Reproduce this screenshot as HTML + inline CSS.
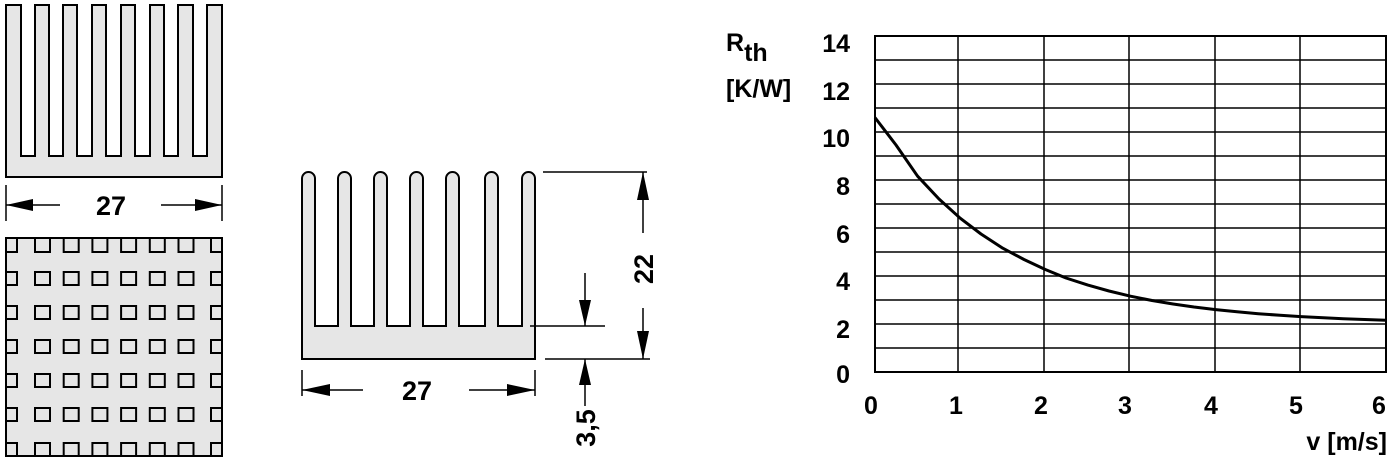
<!DOCTYPE html>
<html><head><meta charset="utf-8"><style>
html,body{margin:0;padding:0;background:#fff;}
svg{display:block;}
text{font-family:"Liberation Sans",Arial,sans-serif;font-weight:bold;fill:#000;}
</style></head><body>
<svg width="1394" height="463" viewBox="0 0 1394 463" xmlns="http://www.w3.org/2000/svg">
<!-- Top-left heatsink -->
<path d="M6,5 V177 H222 V5 H207 V156 H193 V5 H178 V156 H164 V5 H150 V156 H135 V5 H121 V156 H106 V5 H92 V156 H77 V5 H63 V156 H49 V5 H35 V156 H21 V5 Z" fill="#e6e6e6" stroke="#000" stroke-width="2"/>
<g stroke="#000" stroke-width="1.5">
<line x1="6" y1="185" x2="6" y2="221"/><line x1="222" y1="185" x2="222" y2="221"/>
<line x1="6" y1="205" x2="60" y2="205"/><line x1="161" y1="205" x2="222" y2="205"/>
</g>
<polygon points="6,205 33,199 33,211"/><polygon points="222,205 195,199 195,211"/>
<text x="111" y="215" font-size="27" text-anchor="middle">27</text>
<!-- bottom-left plate -->
<rect x="6" y="238" width="216" height="218" fill="#e6e6e6" stroke="#000" stroke-width="2"/>
<g fill="#e6e6e6" stroke="#000" stroke-width="2">
<g>
<rect x="6" y="238" width="11" height="14"/><rect x="6" y="272" width="11" height="13"/><rect x="6" y="306" width="11" height="13"/><rect x="6" y="340" width="11" height="13"/><rect x="6" y="374" width="11" height="13"/><rect x="6" y="408" width="11" height="13"/><rect x="6" y="443" width="11" height="13"/>
</g>
<g id="c2">
<rect x="35" y="238" width="15" height="14"/><rect x="35" y="272" width="15" height="13"/><rect x="35" y="306" width="15" height="13"/><rect x="35" y="340" width="15" height="13"/><rect x="35" y="374" width="15" height="13"/><rect x="35" y="408" width="15" height="13"/><rect x="35" y="443" width="15" height="13"/>
</g>
<use href="#c2" x="28.7"/><use href="#c2" x="57.4"/><use href="#c2" x="86.1"/><use href="#c2" x="114.8"/><use href="#c2" x="143.5"/>
<g>
<rect x="211" y="238" width="11" height="14"/><rect x="211" y="272" width="11" height="13"/><rect x="211" y="306" width="11" height="13"/><rect x="211" y="340" width="11" height="13"/><rect x="211" y="374" width="11" height="13"/><rect x="211" y="408" width="11" height="13"/><rect x="211" y="443" width="11" height="13"/>
</g>
</g>
<rect x="6" y="238" width="216" height="218" fill="none" stroke="#000" stroke-width="2"/>
<!-- middle heatsink -->
<path d="M302,359 V178.5 A6.5,6.5 0 0 1 315,178.5 V326 H338 V178.5 A6.5,6.5 0 0 1 351,178.5 V326 H374 V178.5 A6.5,6.5 0 0 1 387,178.5 V326 H410 V178.5 A6.5,6.5 0 0 1 423,178.5 V326 H446 V178.5 A6.5,6.5 0 0 1 459,178.5 V326 H485 V178.5 A6.5,6.5 0 0 1 498,178.5 V326 H522 V178.5 A6.5,6.5 0 0 1 535,178.5 V359 Z" fill="#e6e6e6" stroke="#000" stroke-width="2"/>
<g stroke="#000" stroke-width="1.5">
<line x1="543" y1="172" x2="647" y2="172"/>
<line x1="545" y1="359" x2="650" y2="359"/>
<line x1="530" y1="326" x2="605" y2="326"/>
<line x1="643" y1="172" x2="643" y2="233"/><line x1="643" y1="308" x2="643" y2="359"/>
<line x1="585" y1="273" x2="585" y2="326"/><line x1="585" y1="359" x2="585" y2="406"/>
<line x1="302" y1="370" x2="302" y2="396"/><line x1="535" y1="370" x2="535" y2="396"/>
<line x1="302" y1="390" x2="363" y2="390"/><line x1="469" y1="390" x2="535" y2="390"/>
</g>
<polygon points="643,172 637,200 649,200"/><polygon points="643,359 637,331 649,331"/>
<polygon points="585,326 579,300 591,300"/><polygon points="585,359 579,385 591,385"/>
<polygon points="302,390 330,384 330,396"/><polygon points="535,390 507,384 507,396"/>
<text x="417" y="400" font-size="27" text-anchor="middle">27</text>
<text transform="translate(653,269) rotate(-90)" font-size="27" text-anchor="middle">22</text>
<text transform="translate(595,428) rotate(-90)" font-size="27" text-anchor="middle">3,5</text>
<!-- chart grid -->
<g stroke="#000" stroke-width="1.5" fill="none">
<rect x="875" y="36" width="511" height="336" stroke-width="2"/>
<line x1="875" y1="60" x2="1386" y2="60"/><line x1="875" y1="84" x2="1386" y2="84"/>
<line x1="875" y1="108" x2="1386" y2="108"/><line x1="875" y1="132" x2="1386" y2="132"/>
<line x1="875" y1="156" x2="1386" y2="156"/><line x1="875" y1="180" x2="1386" y2="180"/>
<line x1="875" y1="204" x2="1386" y2="204"/><line x1="875" y1="228" x2="1386" y2="228"/>
<line x1="875" y1="252" x2="1386" y2="252"/><line x1="875" y1="276" x2="1386" y2="276"/>
<line x1="875" y1="300" x2="1386" y2="300"/><line x1="875" y1="324" x2="1386" y2="324"/>
<line x1="875" y1="348" x2="1386" y2="348"/>
<line x1="958" y1="36" x2="958" y2="372"/><line x1="1044" y1="36" x2="1044" y2="372"/>
<line x1="1129" y1="36" x2="1129" y2="372"/><line x1="1215" y1="36" x2="1215" y2="372"/>
<line x1="1300" y1="36" x2="1300" y2="372"/>
</g>
<polyline points="875,117.6 896,145 917.6,176.2 939,199 960.2,218.2 981,234 1002.8,248.2 1024,259.5 1045.3,269.5 1066,278 1087.9,285.1 1109,291 1130.5,296.2 1152,300.5 1173.1,304 1194,307 1215.7,309.6 1237,311.8 1258.3,313.7 1280,315.3 1300.9,316.6 1343.4,318.7 1386,320.2" fill="none" stroke="#000" stroke-width="3" stroke-linejoin="round"/>
<g font-size="25" text-anchor="end">
<text x="850" y="52">14</text><text x="850" y="100">12</text><text x="850" y="147">10</text>
<text x="850" y="195">8</text><text x="850" y="243">6</text><text x="850" y="290">4</text>
<text x="850" y="338">2</text><text x="850" y="383">0</text>
</g>
<g font-size="25" text-anchor="middle">
<text x="871" y="414">0</text><text x="956" y="414">1</text><text x="1041" y="414">2</text>
<text x="1125" y="414">3</text><text x="1211" y="414">4</text><text x="1296" y="414">5</text><text x="1379" y="414">6</text>
</g>
<text x="1387" y="450" font-size="25" text-anchor="end">v [m/s]</text>
<text x="726" y="51" font-size="25">R<tspan dy="10">th</tspan></text>
<text x="726" y="97" font-size="25">[K/W]</text>
</svg>
</body></html>
